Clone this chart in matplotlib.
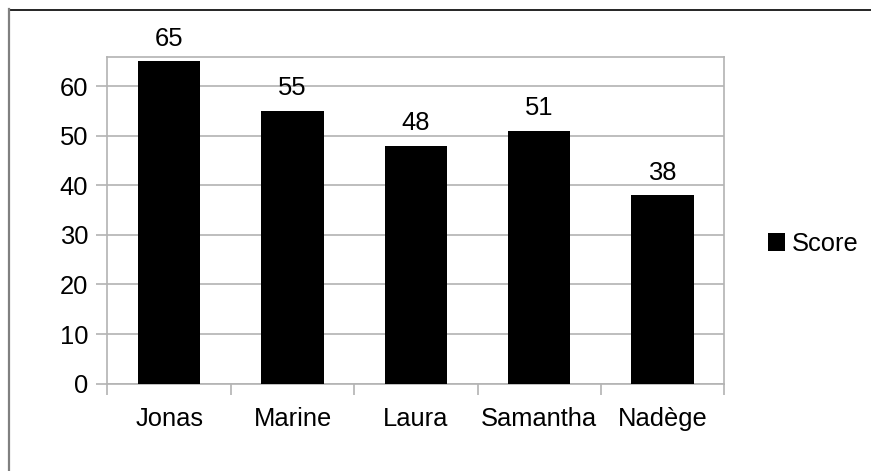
import matplotlib
matplotlib.use("Agg")
import matplotlib.pyplot as plt
from matplotlib.lines import Line2D
import numpy as np

categories = ["Jonas", "Marine", "Laura", "Samantha", "Nadège"]
scores = [65, 55, 48, 51, 38]
series_name = "Score"
yticks = [0, 10, 20, 30, 40, 50, 60]

plt.rcParams['font.family'] = ['Liberation Sans', 'DejaVu Sans']
FS = 18.4
GRID = '#b3b3b3'

fig = plt.figure(figsize=(8.71, 4.71), dpi=100)
ax = fig.add_axes([0.1234, 0.1854, 0.8316 - 0.1234, 0.8796 - 0.1854])

x = np.arange(len(categories))
bars = ax.bar(x, scores, width=0.505, color='black', label=series_name, zorder=3)
for xi, v in zip(x, scores):
    ax.annotate(str(v), (xi, v), xytext=(0, 7.5), textcoords='offset points',
                ha='center', va='bottom', fontsize=FS, color='black')

ax.set_xlim(-0.5, len(categories) - 0.5)
ax.set_ylim(0, 65.93)
ax.set_yticks(yticks)
ax.set_xticks(x)
ax.set_xticklabels(categories)
ax.set_xticks(np.arange(-0.5, len(categories), 1.0), minor=True)
ax.yaxis.grid(True, color=GRID, linewidth=1.2, zorder=0)
ax.set_axisbelow(True)
ax.tick_params(axis='y', which='major', length=8, width=1.2, color=GRID, pad=6,
               labelsize=FS, labelcolor='black')
ax.tick_params(axis='x', which='major', length=0, pad=17, labelsize=FS, labelcolor='black')
ax.tick_params(axis='x', which='minor', length=8, width=1.2, color=GRID)
for s in ax.spines.values():
    s.set_color(GRID)
    s.set_linewidth(1.2)

fig.legend(handles=[bars], labels=[series_name], loc='center left',
           bbox_to_anchor=(0.8817, 0.482), frameon=False, fontsize=FS,
           handlelength=0.65, handleheight=0.65, handletextpad=0.3,
           borderpad=0, borderaxespad=0)

fig.add_artist(Line2D([9.5 / 871, 1.0], [1 - 9.5 / 471, 1 - 9.5 / 471],
                      transform=fig.transFigure, color='black', linewidth=1.2))
fig.add_artist(Line2D([9.0 / 871, 9.0 / 871], [0, 1 - 9.0 / 471],
                      transform=fig.transFigure, color='#808080', linewidth=1.6))

fig.savefig("out.png", dpi=100)
